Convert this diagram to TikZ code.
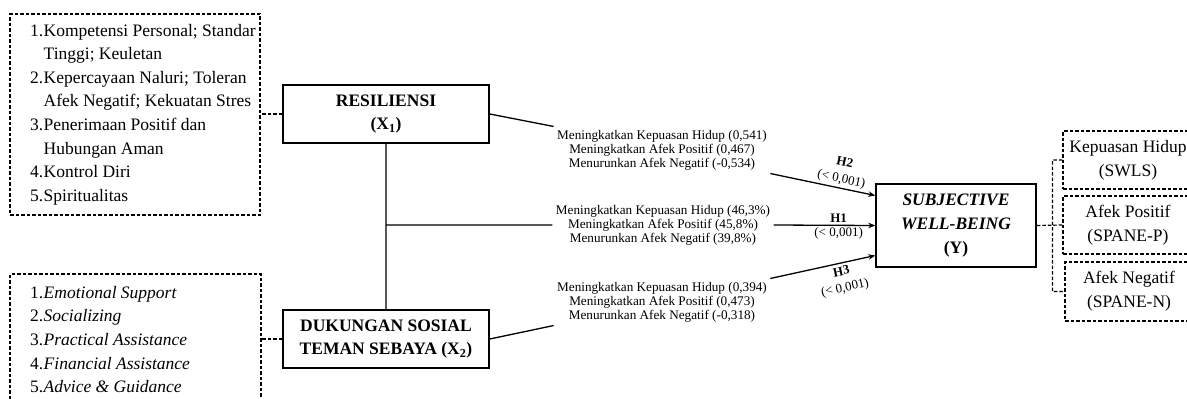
\documentclass[tikz,border=0pt]{standalone}
\usepackage{fontspec}
\setmainfont{Liberation Serif}
\usetikzlibrary{arrows.meta}

\newcommand{\numlbl}[1]{\makebox[13.5pt][l]{#1}}
\newcommand{\indlbl}{\hspace*{13.5pt}}

\begin{document}
\begin{tikzpicture}[x=1pt,y=-1pt,
            mainbox/.style={draw,line width=1.5pt,align=center,inner sep=0pt,font=\fontsize{17.5}{23.5}\selectfont\bfseries},
            dbox/.style={draw,line width=1.2pt,dash pattern=on 3.5pt off 2pt,inner sep=0pt},
            listfont/.style={align=left,inner sep=0pt,font=\fontsize{17.5}{23.6}\selectfont},
            outfont/.style={align=center,font=\fontsize{17.5}{24}\selectfont},
            lbl/.style={align=center,font=\fontsize{13.2}{14}\selectfont},
            hlbl/.style={align=center,inner sep=2pt,font=\fontsize{13}{16.5}\selectfont},
            link/.style={line width=1.3pt},
            dline/.style={line width=1.2pt,dash pattern=on 3.5pt off 2pt},
            arr/.style={line width=1.3pt,-{Stealth[length=7pt,width=5.5pt]}}]
            \useasboundingbox (0,0) rectangle (1187,399);

            \node (ind1) at (135,114.5) [dbox,minimum width=250pt,minimum height=201pt] {};
            \node (lst1) at (30,114.5) [anchor=west,listfont] {\numlbl{1.}Kompetensi Personal; Standar\\
                \indlbl Tinggi; Keuletan\\
                \numlbl{2.}Kepercayaan Naluri; Toleran\\
                \indlbl Afek Negatif; Kekuatan Stres\\
                \numlbl{3.}Penerimaan Positif dan\\
                \indlbl Hubungan Aman\\
                \numlbl{4.}Kontrol Diri\\
                \numlbl{5.}Spiritualitas};
            \node (ind2) at (135.5,339) [dbox,minimum width=251pt,minimum height=130pt] {};
            \node (lst2) at (30,339.5) [anchor=west,listfont] {\numlbl{1.}\textit{Emotional Support}\\
                \numlbl{2.}\textit{Socializing}\\
                \numlbl{3.}\textit{Practical Assistance}\\
                \numlbl{4.}\textit{Financial Assistance}\\
                \numlbl{5.}\textit{Advice \& Guidance}};

            \node (x1) at (386,114) [mainbox,minimum width=206pt,minimum height=58pt] {RESILIENSI\\(X\textsubscript{1})};
            \node (x2) at (386,339) [mainbox,minimum width=206pt,minimum height=58pt] {DUKUNGAN SOSIAL\\TEMAN SEBAYA (X\textsubscript{2})};
            \node (swb) at (956,225.5) [mainbox,minimum width=160pt,minimum height=83pt,font=\fontsize{17.5}{24}\selectfont\bfseries\itshape] {SUBJECTIVE\\WELL-BEING\\\textup{(Y)}};

            \node (t2) at (662,150) [lbl] {Meningkatkan Kepuasan Hidup (0,541)\\Meningkatkan Afek Positif (0,467)\\Menurunkan Afek Negatif (-0,534)};
            \node (t1) at (663,225) [lbl] {Meningkatkan Kepuasan Hidup (46,3\%)\\Meningkatkan Afek Positif (45,8\%)\\Menurunkan Afek Negatif (39,8\%)};
            \node (t3) at (662,302) [lbl] {Meningkatkan Kepuasan Hidup (0,394)\\Meningkatkan Afek Positif (0,473)\\Menurunkan Afek Negatif (-0,318)};

            \node (o1) at (1128,160) [dbox,outfont,minimum width=130pt,minimum height=58pt] {Kepuasan Hidup\\(SWLS)};
            \node (o2) at (1128,225) [dbox,outfont,minimum width=130pt,minimum height=58pt] {Afek Positif\\(SPANE-P)};
            \node (o3) at (1129,291.5) [dbox,outfont,minimum width=128pt,minimum height=59pt] {Afek Negatif\\(SPANE-N)};

            \draw[dline] (x1.west) -- (x1.west -| ind1.east) (x2.west) -- (x2.west -| ind2.east);
            \draw[link] (x1.east) -- (t2.north west) (x2.east) -- (t3.south west) (x1.south) -- (x2.north) (x1.south |- t1.west) -- (t1.west);
            \draw[arr] (t2.south east) -- ([yshift=30pt]swb.west) node[pos=.66,above,sloped,hlbl] {\textbf{H2}\\(< 0,001)};
            \draw[arr] (t1.east) -- (swb.west) node[pos=.64,above,hlbl] {\textbf{H1}} node[pos=.64,below,hlbl] {(< 0,001)};
            \draw[arr] (t3.north east) -- ([yshift=-30pt]swb.west) node[pos=.66,below,sloped,hlbl,inner sep=3pt] {\textbf{H3}\\(< 0,001)};
            \draw[dline] (swb.east) -- (o2.west) (o1.west) -- ++(-10,0) |- (o3.west);

        \end{tikzpicture}
\end{document}
